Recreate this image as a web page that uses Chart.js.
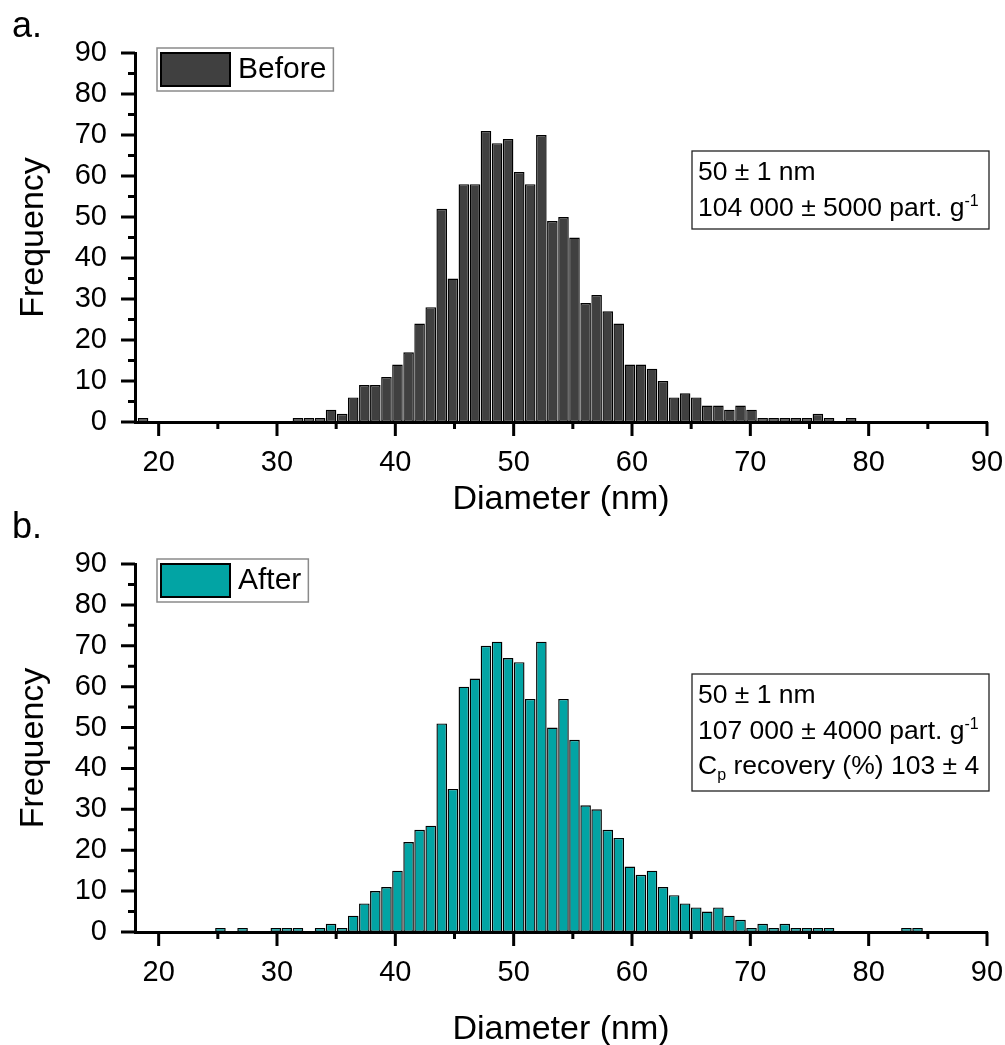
<!DOCTYPE html>
<html>
<head>
<meta charset="utf-8">
<title>Diameter histograms</title>
<script src="https://cdn.jsdelivr.net/npm/chart.js@4.4.0/dist/chart.umd.min.js"></script>
<style>
  html, body { margin: 0; padding: 0; background: #fff; overflow: hidden; }
  canvas { position: absolute; left: 0; }
  #chartA { top: 0; }
  #chartB { top: 510px; }
</style>
</head>
<body>
<canvas id="chartA" width="1005" height="545"></canvas>
<canvas id="chartB" width="1005" height="545"></canvas>
<script>
// bin centres (nm)
const diameters = [18.68, 19.61, 20.55, 21.48, 22.42, 23.35, 24.29, 25.22, 26.16, 27.09,
  28.03, 28.96, 29.90, 30.83, 31.77, 32.70, 33.64, 34.57, 35.51, 36.44,
  37.38, 38.31, 39.25, 40.18, 41.12, 42.05, 42.99, 43.92, 44.86, 45.79,
  46.73, 47.66, 48.60, 49.53, 50.47, 51.40, 52.34, 53.27, 54.21, 55.14,
  56.08, 57.01, 57.95, 58.88, 59.82, 60.75, 61.69, 62.62, 63.56, 64.49,
  65.43, 66.36, 67.30, 68.23, 69.17, 70.10, 71.04, 71.97, 72.91, 73.84,
  74.78, 75.71, 76.65, 77.58, 78.52, 79.45, 80.39, 81.32, 82.26, 83.19, 84.13];

// frequencies
const before = [1, 0, 0, 0, 0, 0, 0, 0, 0, 0,
  0, 0, 0, 0, 1, 1, 1, 3, 2, 6,
  9, 9, 11, 14, 17, 24, 28, 52, 35, 58,
  58, 71, 68, 69, 61, 58, 70, 49, 50, 45,
  29, 31, 27, 24, 14, 14, 13, 10, 6, 7,
  6, 4, 4, 3, 4, 3, 1, 1, 1, 1,
  1, 2, 1, 0, 1, 0, 0, 0, 0, 0, 0];

const after = [0, 0, 0, 0, 0, 0, 0, 1, 0, 1,
  0, 0, 1, 1, 1, 0, 1, 2, 1, 4,
  7, 10, 11, 15, 22, 25, 26, 51, 35, 60,
  62, 70, 71, 67, 66, 57, 71, 50, 57, 47,
  31, 30, 25, 23, 16, 14, 15, 11, 9, 7,
  6, 5, 6, 4, 3, 1, 2, 1, 2, 1,
  1, 1, 1, 0, 0, 0, 0, 0, 0, 1, 1];

// axis ticks
const xMajor = [20, 30, 40, 50, 60, 70, 80, 90];
const xMinor = [25, 35, 45, 55, 65, 75, 85];
const yMajor = [0, 10, 20, 30, 40, 50, 60, 70, 80, 90];
const yMinor = [5, 15, 25, 35, 45, 55, 65, 75, 85];

// text boxes
const infoBefore = [
  [{ t: '50 ± 1 nm' }],
  [{ t: '104 000 ± 5000 part. g' }, { t: '-1', sup: true }]
];
const infoAfter = [
  [{ t: '50 ± 1 nm' }],
  [{ t: '107 000 ± 4000 part. g' }, { t: '-1', sup: true }],
  [{ t: 'C' }, { t: 'p', sub: true }, { t: ' recovery (%) 103 ± 4' }]
];

const FONT = "'Liberation Sans', Arial, sans-serif";
Chart.defaults.font.family = FONT;
Chart.defaults.color = '#000';

// outward major/minor tick marks
const tickMarks = {
  id: 'tickMarks',
  afterDraw(chart) {
    const { ctx, chartArea: a, scales: { x, y } } = chart;
    ctx.save();
    ctx.strokeStyle = '#000';
    ctx.lineWidth = 3;
    ctx.beginPath();
    xMajor.forEach(v => { const p = x.getPixelForValue(v); ctx.moveTo(p, a.bottom); ctx.lineTo(p, a.bottom + 14); });
    xMinor.forEach(v => { const p = x.getPixelForValue(v); ctx.moveTo(p, a.bottom); ctx.lineTo(p, a.bottom + 7); });
    yMajor.forEach(v => { const p = y.getPixelForValue(v); ctx.moveTo(a.left, p); ctx.lineTo(a.left - 14, p); });
    yMinor.forEach(v => { const p = y.getPixelForValue(v); ctx.moveTo(a.left, p); ctx.lineTo(a.left - 7, p); });
    ctx.stroke();
    ctx.restore();
  }
};

function drawRich(ctx, parts, x, y) {
  parts.forEach(p => {
    if (p.sup || p.sub) {
      ctx.font = '16px ' + FONT;
      ctx.fillText(p.t, x, p.sup ? y - 10 : y + 6);
    } else {
      ctx.font = '26.5px ' + FONT;
      ctx.fillText(p.t, x, y);
    }
    x += ctx.measureText(p.t).width;
  });
}

function decor(letter, letterY, info, infoTop) {
  return {
    id: 'decor',
    afterDraw(chart) {
      const { ctx, chartArea: a } = chart;
      const ds = chart.data.datasets[0];
      ctx.save();
      ctx.fillStyle = '#000';
      ctx.textBaseline = 'alphabetic';
      ctx.font = '36px ' + FONT;
      ctx.fillText(letter, 12, letterY);

      // legend
      ctx.font = '30px ' + FONT;
      const tw = ctx.measureText(ds.label).width;
      ctx.strokeStyle = '#8a8a8a';
      ctx.lineWidth = 1.5;
      ctx.strokeRect(a.left + 22, a.top - 5, 81 + tw + 7, 43);
      ctx.fillStyle = ds.backgroundColor;
      ctx.fillRect(a.left + 26, a.top, 69, 33);
      ctx.strokeStyle = '#000';
      ctx.lineWidth = 2;
      ctx.strokeRect(a.left + 26, a.top, 69, 33);
      ctx.fillStyle = '#000';
      ctx.textBaseline = 'middle';
      ctx.fillText(ds.label, a.left + 103, a.top + 17);

      // info box
      ctx.textBaseline = 'alphabetic';
      const h = info.length === 2 ? 78 : 117;
      ctx.strokeStyle = '#222';
      ctx.lineWidth = 1.3;
      ctx.strokeRect(692, infoTop, 297, h);
      info.forEach((line, i) => drawRich(ctx, line, 698, infoTop + 29 + i * 35.5));
      ctx.restore();
    }
  };
}

function makePanel(id, label, values, color, top, titleGap, letter, letterY, info, infoTop) {
  return new Chart(document.getElementById(id), {
    type: 'bar',
    data: {
      datasets: [{
        label: label,
        data: diameters.map((d, i) => ({ x: d, y: values[i] || null })),
        backgroundColor: color,
        borderColor: '#000',
        borderWidth: 1.4,
        borderSkipped: false,
        categoryPercentage: 1,
        barPercentage: 0.96
      }]
    },
    options: {
      responsive: false,
      animation: false,
      layout: { padding: { top: top, right: 18, left: 0, bottom: 0 } },
      plugins: { legend: { display: false }, tooltip: { enabled: false } },
      scales: {
        x: {
          type: 'linear', min: 18, max: 90, offset: false,
          afterBuildTicks: s => { s.ticks = xMajor.map(v => ({ value: v })); },
          afterFit: s => { s.height = 123; },
          // tickLength only offsets the labels; the marks are drawn by tickMarks
          grid: { display: false, drawTicks: true, tickLength: 24, offset: false },
          border: { display: true, color: '#000', width: 3, z: 1 },
          ticks: { padding: 0, font: { size: 29 }, color: '#000', maxRotation: 0, autoSkip: false },
          title: { display: true, text: 'Diameter (nm)', font: { size: 34 }, color: '#000', padding: { top: 0, bottom: titleGap } }
        },
        y: {
          min: 0, max: 90,
          afterBuildTicks: s => { s.ticks = yMajor.map(v => ({ value: v })); },
          afterFit: s => { s.width = 135; },
          grid: { display: false, drawTicks: true, tickLength: 28 },
          border: { display: true, color: '#000', width: 3, z: 1 },
          ticks: { padding: 0, font: { size: 29 }, color: '#000', autoSkip: false },
          title: { display: true, text: 'Frequency', font: { size: 34 }, color: '#000', padding: { top: 13, bottom: 0 } }
        }
      }
    },
    plugins: [tickMarks, decor(letter, letterY, info, infoTop)]
  });
}

makePanel('chartA', 'Before', before, '#404040', 53, 25, 'a.', 37, infoBefore, 151);
makePanel('chartB', 'After', after, '#02a4a4', 54, 5, 'b.', 28, infoAfter, 164);
</script>
</body>
</html>
